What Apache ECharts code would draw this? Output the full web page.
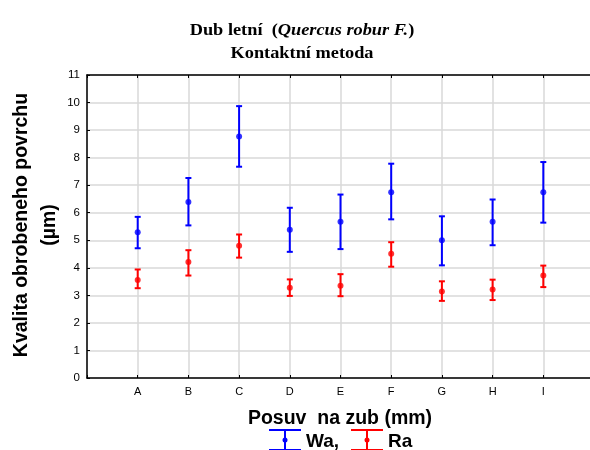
<!DOCTYPE html>
<html>
<head>
<meta charset="utf-8">
<script src="https://cdn.jsdelivr.net/npm/echarts@6/dist/echarts.min.js"></script>
<style>
  html, body { margin: 0; padding: 0; background: #fff; }
  #chart { width: 590px; height: 450px; }
</style>
</head>
<body>
<div id="chart"></div>
<script>
// categories on the x axis (positions 1..9)
const categories = ['A', 'B', 'C', 'D', 'E', 'F', 'G', 'H', 'I'];

// Wa - mean and interval bounds
const waMean = [5.29, 6.39, 8.77, 5.38, 5.67, 6.74, 5.00, 5.67, 6.74];
const waLow  = [4.71, 5.54, 7.67, 4.58, 4.68, 5.76, 4.09, 4.82, 5.64];
const waHigh = [5.85, 7.26, 9.87, 6.18, 6.66, 7.78, 5.87, 6.48, 7.84];

// Ra - mean and interval bounds
const raMean = [3.56, 4.21, 4.80, 3.28, 3.35, 4.51, 3.14, 3.21, 3.72];
const raLow  = [3.26, 3.72, 4.37, 2.98, 2.97, 4.04, 2.80, 2.83, 3.30];
const raHigh = [3.94, 4.64, 5.21, 3.58, 3.77, 4.93, 3.51, 3.57, 4.08];

const yTicks = [0, 1, 2, 3, 4, 5, 6, 7, 8, 9, 10, 11];

const BLUE = '#0000ff';
const RED = '#ff0000';
const FONT = 'Liberation Sans';

const chart = echarts.init(document.getElementById('chart'));

// error bar: vertical line with caps
function errorBar(color) {
  return function (params, api) {
    const x = api.value(0);
    const lo = api.coord([x, api.value(1)]);
    const hi = api.coord([x, api.value(2)]);
    const cap = 3;
    const style = { stroke: color, lineWidth: 2 };
    return {
      type: 'group',
      children: [
        { type: 'line', shape: { x1: lo[0], y1: lo[1], x2: hi[0], y2: hi[1] }, style: style },
        { type: 'line', shape: { x1: lo[0] - cap, y1: lo[1], x2: lo[0] + cap, y2: lo[1] }, style: style },
        { type: 'line', shape: { x1: hi[0] - cap, y1: hi[1], x2: hi[0] + cap, y2: hi[1] }, style: style }
      ]
    };
  };
}

const toBars = (lo, hi) => lo.map((v, i) => [i + 1, v, hi[i]]);
const toPts = (m) => m.map((v, i) => [i + 1, v]);

// legend drawn by hand: error bar icon + label
function legendItem(cx, color, label) {
  const cy = 440;
  return [
    { type: 'line', shape: { x1: cx - 16, y1: cy - 10, x2: cx + 16, y2: cy - 10 }, style: { stroke: color, lineWidth: 2 } },
    { type: 'line', shape: { x1: cx - 16, y1: cy + 10, x2: cx + 16, y2: cy + 10 }, style: { stroke: color, lineWidth: 2 } },
    { type: 'line', shape: { x1: cx, y1: cy - 10, x2: cx, y2: cy + 10 }, style: { stroke: color, lineWidth: 2 } },
    { type: 'circle', shape: { cx: cx, cy: cy, r: 2.5 }, style: { fill: color } },
    { type: 'text', x: cx + 21, y: cy + 2, style: { text: label, font: 'bold 19px ' + FONT, fill: '#000', verticalAlign: 'middle' } }
  ];
}

const axisCommon = {
  type: 'value',
  min: 0,
  max: 10,
  interval: 1,
  axisLine: { lineStyle: { color: '#000', width: 1.5 } },
  axisTick: { inside: true, length: 3, lineStyle: { color: '#000' } },
  splitLine: { show: false }
};

chart.setOption({
  animation: false,
  backgroundColor: '#fff',
  grid: { left: 87, top: 75, width: 507, height: 303, outerBoundsMode: 'none' },
  xAxis: [
    Object.assign({}, axisCommon, {
      position: 'bottom',
      axisLabel: {
        margin: 8,
        fontFamily: FONT,
        fontSize: 11,
        color: '#000',
        formatter: (v) => categories[v - 1] || ''
      },
      splitLine: { show: true, lineStyle: { color: '#d9d9d9', width: 1.5 } }
    }),
    Object.assign({}, axisCommon, {
      position: 'top',
      axisLabel: { show: false }
    })
  ],
  yAxis: {
    type: 'value',
    min: yTicks[0],
    max: yTicks[yTicks.length - 1],
    interval: 1,
    axisLine: { show: true, lineStyle: { color: '#000', width: 1.5 } },
    axisTick: { show: true, inside: true, length: 3, lineStyle: { color: '#000' } },
    axisLabel: { margin: 7, fontFamily: FONT, fontSize: 11.5, color: '#000' },
    splitLine: { show: true, lineStyle: { color: '#d9d9d9', width: 1.5 } }
  },
  graphic: [
    {
      type: 'text',
      x: 302,
      y: 42,
      scaleX: 1.11,
      originX: 0,
      style: {
        text: '{b|Dub letní  (}{i|Quercus robur F.}{b|)}\n{b|Kontaktní metoda}',
        align: 'center',
        verticalAlign: 'middle',
        rich: {
          b: { fontFamily: 'Liberation Serif', fontWeight: 'bold', fontSize: 16.5, fill: '#000', lineHeight: 23 },
          i: { fontFamily: 'Liberation Serif', fontWeight: 'bold', fontStyle: 'italic', fontSize: 16.5, fill: '#000', lineHeight: 23 }
        }
      }
    },
    {
      type: 'text',
      x: 36,
      y: 225,
      rotation: Math.PI / 2,
      style: {
        text: 'Kvalita obrobeneho povrchu\n(µm)',
        font: 'bold 19.5px ' + FONT,
        lineHeight: 28,
        fill: '#000',
        align: 'center',
        verticalAlign: 'middle'
      }
    },
    {
      type: 'text',
      x: 340,
      y: 419,
      style: {
        text: 'Posuv  na zub (mm)',
        font: 'bold 19.5px ' + FONT,
        fill: '#000',
        align: 'center',
        verticalAlign: 'middle'
      }
    }
  ].concat(legendItem(285, BLUE, 'Wa,'), legendItem(367, RED, 'Ra')),
  series: [
    { name: 'Wa', type: 'custom', renderItem: errorBar(BLUE), data: toBars(waLow, waHigh), encode: { x: 0, y: [1, 2] }, z: 3 },
    { name: 'Ra', type: 'custom', renderItem: errorBar(RED), data: toBars(raLow, raHigh), encode: { x: 0, y: [1, 2] }, z: 3 },
    { name: 'Wa mean', type: 'scatter', data: toPts(waMean), symbol: 'circle', symbolSize: 6, itemStyle: { color: BLUE }, z: 4 },
    { name: 'Ra mean', type: 'scatter', data: toPts(raMean), symbol: 'circle', symbolSize: 6, itemStyle: { color: RED }, z: 4 }
  ]
});
</script>
</body>
</html>
